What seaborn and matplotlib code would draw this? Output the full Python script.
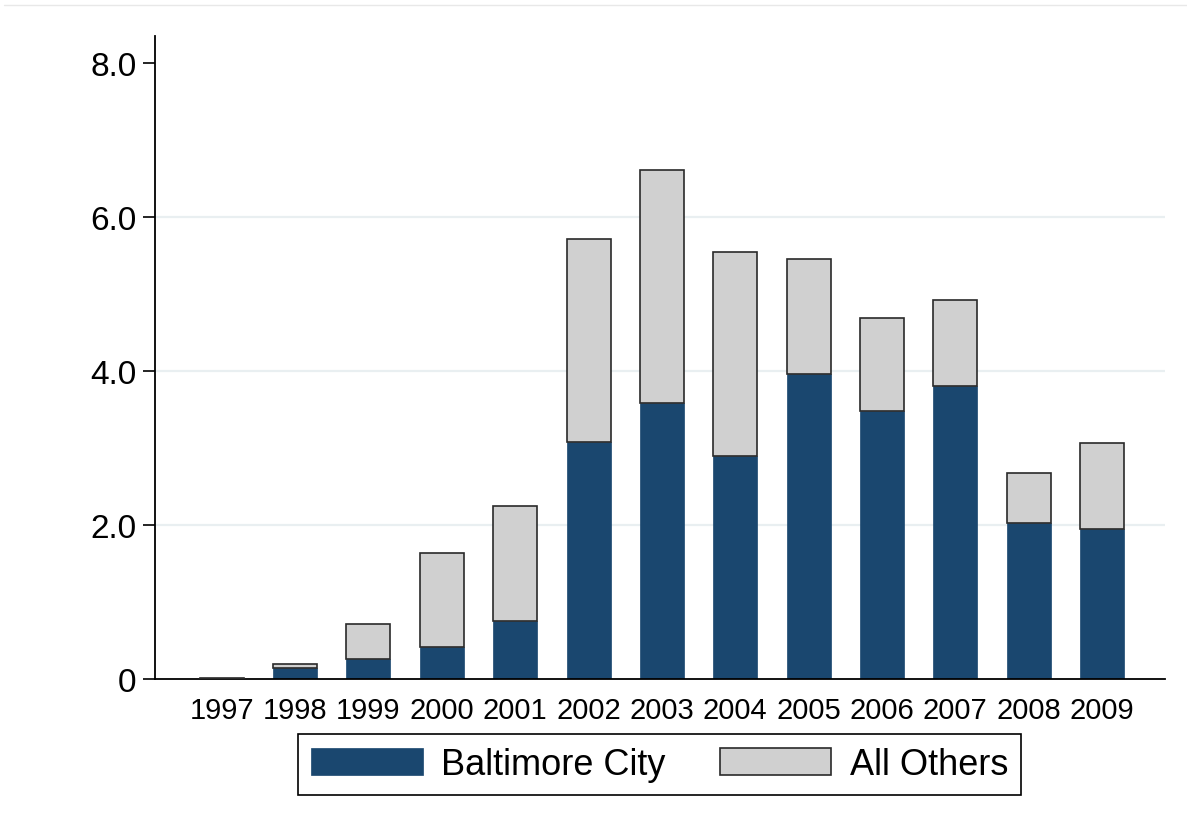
import matplotlib
matplotlib.use("Agg")
import matplotlib.pyplot as plt
import pandas as pd
import seaborn as sns
from matplotlib.patches import Patch
from matplotlib.lines import Line2D

# Data (millions), stacked: Baltimore City at the bottom, all other jurisdictions on top
years = ["1997", "1998", "1999", "2000", "2001", "2002", "2003",
         "2004", "2005", "2006", "2007", "2008", "2009"]
baltimore_city = [0.005, 0.14, 0.26, 0.42, 0.75, 3.08, 3.58,
                  2.90, 3.96, 3.48, 3.81, 2.02, 1.95]
all_others = [0.01, 0.06, 0.46, 1.22, 1.50, 2.63, 3.03,
              2.65, 1.49, 1.21, 1.11, 0.66, 1.11]

y_ticks = [0, 2, 4, 6, 8]
y_tick_labels = ["0", "2.0", "4.0", "6.0", "8.0"]
grid_levels = [2, 4, 6]
series_names = ["Baltimore City", "All Others"]

NAVY = "#1a476f"
GRAY = "#d0d0d0"

sns.set_theme(style="white")
plt.rcParams["font.family"] = ["Liberation Sans", "DejaVu Sans"]

df = pd.DataFrame({"year": years, "baltimore": baltimore_city, "others": all_others})

fig, ax = plt.subplots(figsize=(11.87, 8.28), dpi=100)
fig.subplots_adjust(left=0.1306, right=0.9815, bottom=0.1787, top=0.9553)

# light horizontal grid behind the bars
for lvl in grid_levels:
    ax.axhline(lvl, color="#e9eff1", lw=1.6, zorder=0)

# bottom segment
sns.barplot(data=df, x="year", y="baltimore", color=NAVY, width=0.6,
            saturation=1, edgecolor=NAVY, linewidth=0.5, ax=ax, zorder=2)
n_bottom = len(ax.patches)
# top segment, lifted onto the bottom segment
sns.barplot(data=df, x="year", y="others", color=GRAY, width=0.6,
            saturation=1, edgecolor="#2a2a2a", linewidth=1.2, ax=ax, zorder=3)
for patch, base in zip(ax.patches[n_bottom:], df["baltimore"]):
    patch.set_y(base)

ax.set_xlim(-0.91, 12.86)
ax.set_ylim(0, 8.35)
ax.set_yticks(y_ticks)
ax.set_yticklabels(y_tick_labels)
ax.set_xlabel("")
ax.set_ylabel("")

for side in ("top", "right"):
    ax.spines[side].set_visible(False)
for side in ("left", "bottom"):
    ax.spines[side].set_color("black")
    ax.spines[side].set_linewidth(1.3)

ax.tick_params(axis="y", left=True, length=8.5, width=1.2, pad=5,
               labelsize=24, color="black", labelcolor="black")
ax.tick_params(axis="x", bottom=False, length=0, pad=12,
               labelsize=21, labelcolor="black")

handles = [Patch(facecolor=NAVY, edgecolor=NAVY, linewidth=0.5),
           Patch(facecolor=GRAY, edgecolor="#2a2a2a", linewidth=1.2)]
leg = fig.legend(handles, series_names, loc="center",
                 bbox_to_anchor=(0.5555, 0.0755), ncol=2, fontsize=26,
                 frameon=True, fancybox=False, framealpha=1,
                 edgecolor="black", labelcolor="black",
                 handlelength=3.1, handleheight=0.8,
                 handletextpad=0.5, columnspacing=1.5, borderpad=0.36)
leg.get_frame().set_linewidth(1.2)

# thin border line across the top of the graph region
fig.add_artist(Line2D([0.003, 1.0], [1 - 5.5 / 828] * 2,
                      color="#e8e8e8", lw=1.0))

fig.savefig("out.png", dpi=100)
